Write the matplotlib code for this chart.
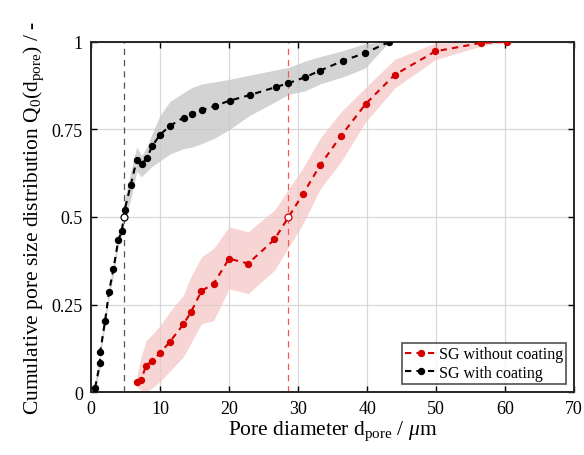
import matplotlib
matplotlib.use('Agg')
import matplotlib.pyplot as plt

plt.rcParams['font.family'] = ['Liberation Serif', 'DejaVu Serif']
plt.rcParams['mathtext.fontset'] = 'custom'
plt.rcParams['mathtext.rm'] = 'Liberation Serif'
plt.rcParams['mathtext.it'] = 'Liberation Serif:italic'

# SG with coating (black)
with_x = [0.58, 1.30, 1.32, 2.03, 2.6, 3.23, 3.95, 4.44, 4.87, 5.74, 6.61, 7.33, 8.06,
          8.88, 9.99, 11.43, 13.4, 14.66, 16.1, 17.9, 20.07, 22.97, 26.8, 28.6, 31.0,
          33.2, 36.5, 39.7, 43.2]
with_y = [0.013, 0.084, 0.115, 0.204, 0.287, 0.351, 0.435, 0.459, 0.521, 0.591, 0.663,
          0.651, 0.668, 0.703, 0.735, 0.760, 0.784, 0.795, 0.805, 0.817, 0.832, 0.848,
          0.871, 0.882, 0.899, 0.918, 0.946, 0.968, 1.0]
with_lo = [0.0, 0.07, 0.10, 0.19, 0.27, 0.335, 0.42, 0.445, 0.49, 0.55, 0.63, 0.615,
           0.63, 0.645, 0.66, 0.68, 0.695, 0.70, 0.71, 0.725, 0.75, 0.79, 0.83, 0.85,
           0.86, 0.88, 0.90, 0.925, 1.0]
with_hi = [0.03, 0.10, 0.13, 0.22, 0.30, 0.365, 0.45, 0.475, 0.55, 0.63, 0.70, 0.675,
           0.70, 0.74, 0.79, 0.83, 0.855, 0.87, 0.88, 0.886, 0.893, 0.905, 0.92, 0.927,
           0.945, 0.958, 0.975, 0.995, 1.0]
with_median = 4.8

# SG without coating (red)
without_x = [6.61, 7.24, 7.96, 8.87, 9.99, 11.43, 13.36, 14.47, 16.0, 17.75, 20.0,
             22.77, 26.58, 30.7, 33.2, 36.2, 39.8, 44.0, 49.9, 56.5, 60.3]
without_y = [0.030, 0.034, 0.075, 0.090, 0.111, 0.144, 0.193, 0.228, 0.289, 0.309,
             0.381, 0.367, 0.436, 0.565, 0.648, 0.731, 0.823, 0.906, 0.973, 0.997, 1.0]
without_lo = [0.015, 0.005, 0.0, 0.012, 0.03, 0.06, 0.10, 0.14, 0.195, 0.204, 0.295,
              0.281, 0.348, 0.48, 0.58, 0.657, 0.772, 0.868, 0.949, 0.988, 1.0]
without_hi = [0.045, 0.10, 0.147, 0.165, 0.19, 0.23, 0.276, 0.33, 0.386, 0.41, 0.472,
              0.458, 0.52, 0.64, 0.725, 0.80, 0.87, 0.95, 0.997, 1.0, 1.0]
without_median = 28.6

RED = '#d40000'

fig = plt.figure(figsize=(5.84, 4.56), dpi=100)
ax = fig.add_axes([0.156, 0.138, 0.827, 0.768])

ax.fill_between(with_x, with_lo, with_hi, color='#c8c8c8', alpha=0.8, lw=0, zorder=1)
ax.fill_between(without_x, without_lo, without_hi, color='#f4c4c4', alpha=0.7, lw=0, zorder=1)

ax.axvline(with_median, color='#555555', ls=(0, (5, 4)), lw=0.9, zorder=2)
ax.axvline(without_median, color='#ff5050', ls=(0, (5, 4)), lw=0.9, zorder=2)

ax.plot(without_x, without_y, ls=(0, (3, 2.5)), color=RED, lw=1.5, marker='o',
        ms=4.3, label='SG without coating', zorder=4)
ax.plot(with_x, with_y, ls=(0, (3, 2.5)), color='black', lw=1.5, marker='o',
        ms=4.3, label='SG with coating', zorder=4)

ax.plot([with_median], [0.5], 'o', mfc='white', mec='black', ms=5, mew=0.9, zorder=5)
ax.plot([without_median], [0.5], 'o', mfc='white', mec=RED, ms=5, mew=0.9, zorder=5)

ax.set_xlim(0, 70)
ax.set_ylim(0, 1)
ax.set_xticks(range(0, 71, 10))
ax.set_yticks([0, 0.25, 0.5, 0.75, 1])
ax.set_yticklabels(['0', '0.25', '0.5', '0.75', '1'])
ax.grid(True, color='#d9d9d9', lw=0.9)
ax.set_axisbelow(True)
ax.tick_params(direction='in', top=True, right=True, labelsize=13, length=4,
               width=1.0, pad=6)
for s in ax.spines.values():
    s.set_linewidth(1.4)
    s.set_color('#262626')

ax.set_xlabel(r'Pore diameter d$_{\rm pore}$ / $\mathit{\mu}$m', fontsize=15.5, labelpad=1)
ax.set_ylabel(r'Cumulative pore size distribution Q$_0$(d$_{\rm pore}$) / -', fontsize=15.5,
              labelpad=4)

leg = ax.legend(loc='lower right', fontsize=11.5, frameon=True, fancybox=False,
                edgecolor='#262626', handlelength=2.0, handletextpad=0.1,
                borderpad=0.2, labelspacing=0.15, borderaxespad=0.5)
leg.get_frame().set_linewidth(1.2)

fig.savefig('out.png', dpi=100)
